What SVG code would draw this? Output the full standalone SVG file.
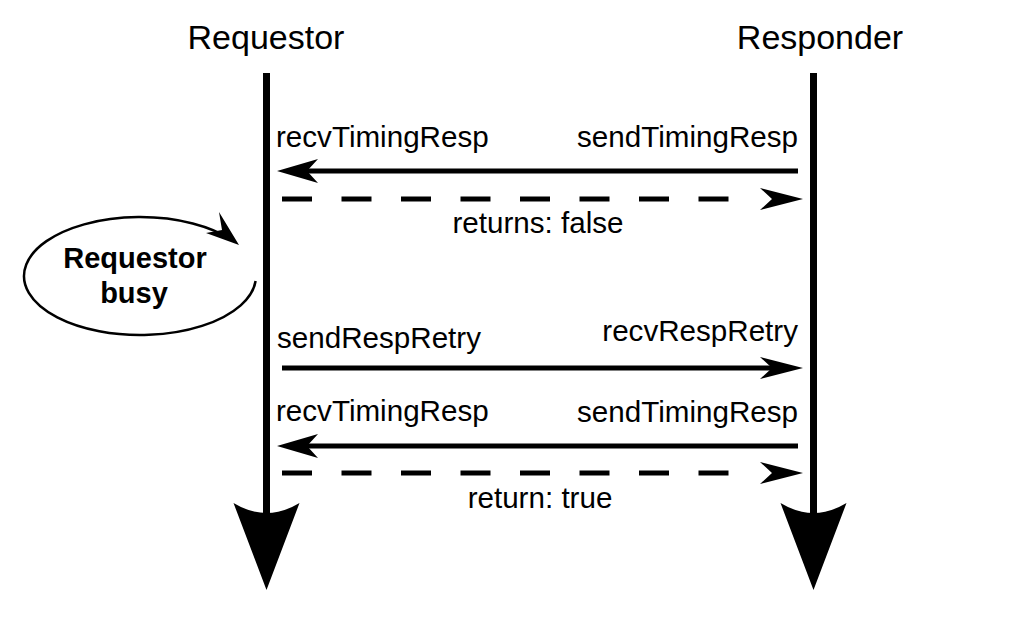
<svg xmlns="http://www.w3.org/2000/svg" width="1024" height="632" viewBox="0 0 1024 632">
<style>
text{font-family:"Liberation Sans",Arial,sans-serif;fill:#000}
.t{font-size:34px}
.m{font-size:29.6px}
.b{font-size:29px;font-weight:bold}
.life{stroke:#000;stroke-width:7;fill:none}
.msg{stroke:#000;stroke-width:5;fill:none}
.dash{stroke:#000;stroke-width:5;fill:none;stroke-dasharray:30 29.5}
.head{fill:#000;stroke:none}
</style>
<rect width="1024" height="632" fill="#fff"/>
<g id="requestor">
<text class="t" x="266" y="49" text-anchor="middle">Requestor</text>
<line class="life" x1="266.5" y1="73" x2="266.5" y2="515"/>
<path class="head" d="M233.5,503 Q250,513 266.5,513 Q283,513 299.5,503 L266.5,590 Z"/>
</g>
<g id="responder">
<text class="t" x="820" y="49" text-anchor="middle">Responder</text>
<line class="life" x1="813.5" y1="73" x2="813.5" y2="515"/>
<path class="head" d="M780.5,503 Q797,513 813.5,513 Q830,513 846.5,503 L813.5,590 Z"/>
</g>
<g id="requestor-busy">
<path class="msg" style="stroke-width:2.5" d="M255.6,281 A116,59 0 1 1 231.4,239.7"/>
<path class="head" d="M239,245 L219,212 L222,230 L206,233 Z"/>
<text class="b" x="135" y="268" text-anchor="middle">Requestor</text>
<text class="b" x="134" y="303" text-anchor="middle">busy</text>
</g>
<g id="connectors">
<line class="msg" x1="798" y1="171" x2="305" y2="171"/>
<path class="head" d="M277,171 L318,159 L307,171 L318,183 Z"/>
<line class="dash" x1="282" y1="199" x2="729" y2="199"/>
<path class="head" d="M803,199 L760,188 L772,199 L760,210 Z"/>
<line class="msg" x1="282" y1="368" x2="775" y2="368"/>
<path class="head" d="M803,368 L760,357 L772,368 L760,379 Z"/>
<line class="msg" x1="798" y1="446" x2="305" y2="446"/>
<path class="head" d="M277,446 L318,434 L307,446 L318,458 Z"/>
<line class="dash" x1="282" y1="473" x2="729" y2="473"/>
<path class="head" d="M803,473 L760,462 L772,473 L760,484 Z"/>
</g>
<g id="labels">
<text class="m" x="276" y="147">recvTimingResp</text>
<text class="m" x="798" y="147" text-anchor="end">sendTimingResp</text>
<text class="m" x="538" y="233" text-anchor="middle">returns: false</text>
<text class="m" x="277" y="348">sendRespRetry</text>
<text class="m" x="798" y="341" text-anchor="end">recvRespRetry</text>
<text class="m" x="276" y="421">recvTimingResp</text>
<text class="m" x="798" y="422" text-anchor="end">sendTimingResp</text>
<text class="m" x="540" y="508" text-anchor="middle">return: true</text>
</g>
</svg>
